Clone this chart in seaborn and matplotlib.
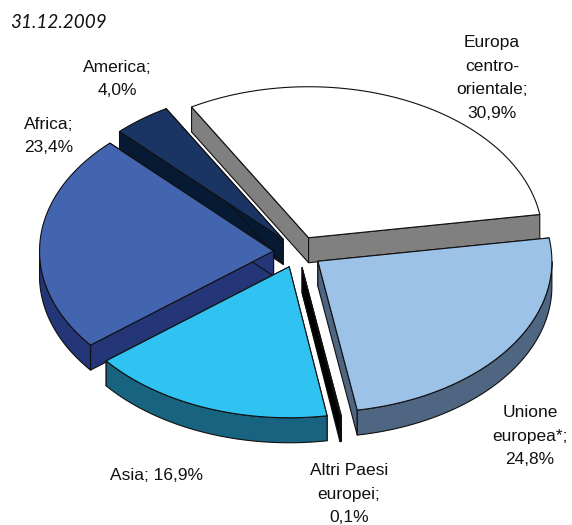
import numpy as np
import matplotlib
matplotlib.use("Agg")
import matplotlib.pyplot as plt
from matplotlib.patches import Polygon
import seaborn as sns

# ---- data ----
categories = ["Europa centro-orientale", "Unione europea*", "Altri Paesi europei", "Asia", "Africa", "America"]
values = [30.9, 24.8, 0.1, 16.9, 23.4, 4.0]
labels = ["Europa\ncentro-\norientale;\n30,9%", "Unione\neuropea*;\n24,8%", "Altri Paesi\neuropei;\n0,1%",
          "Asia; 16,9%", "Africa;\n23,4%", "America;\n4,0%"]
title = "31.12.2009"

# ---- style ----
top_colors = sns.color_palette(["#FFFFFF", "#9CC2E8", "#1A1A1A", "#30C2F0", "#4364AE", "#1A3564"])
side_colors = sns.color_palette(["#808080", "#4F6682", "#000000", "#186480", "#243578", "#071A33"])
label_xy = [(492, 78), (530, 436), (349, 494), (156, 476), (49, 136), (117, 79)]
draw_order = [5, 0, 4, 2, 3, 1]
CX, CY, RX, RY, DEPTH, EXPLODE, START = 298, 252, 234, 151, 25, 24.5, -30.0

sns.set_theme(style="white")
plt.rcParams["font.family"] = ["Liberation Sans", "DejaVu Sans"]
fig = plt.figure(figsize=(5.72, 5.25), dpi=100)
ax = fig.add_axes([0, 0, 1, 1])
ax.set_xlim(0, 572)
ax.set_ylim(525, 0)
ax.axis("off")

shares = np.array(values) / np.sum(values) * 360.0
stops = START + np.concatenate([[0], np.cumsum(shares)])


def point(x0, y0, deg):
    r = np.radians(deg)
    return np.column_stack([x0 + RX * np.sin(r), y0 - RY * np.cos(r)])


for i in draw_order:
    a0, a1 = stops[i], stops[i + 1]
    mid = np.radians((a0 + a1) / 2)
    ox = CX + EXPLODE * np.sin(mid)
    oy = CY - EXPLODE * np.cos(mid) * RY / RX
    arc = point(ox, oy, np.linspace(a0, a1, 90))
    apex = np.array([[ox, oy]])
    down = np.array([[0, DEPTH]])
    kw = dict(closed=True, edgecolor="#101010", linewidth=0.8, joinstyle="round")
    # radial cut faces
    for edge in (arc[:1], arc[-1:]):
        face = np.vstack([apex, edge, edge + down, apex + down])
        ax.add_patch(Polygon(face, facecolor=side_colors[i], **kw))
    # front part of the rim
    ang = np.linspace(a0, a1, 90)
    mask = np.cos(np.radians(ang)) < 0
    if mask.any():
        rim = arc[mask]
        ax.add_patch(Polygon(np.vstack([rim, (rim + down)[::-1]]), facecolor=side_colors[i], **kw))
    # top face
    ax.add_patch(Polygon(np.vstack([apex, arc]), facecolor=top_colors[i], **kw))

for text, (x, y) in zip(labels, label_xy):
    ax.text(x, y, text, ha="center", va="center", fontsize=12.5, color="#111111", linespacing=1.72)

ax.text(10, 23, title, ha="left", va="center", fontsize=13.6, style="italic",
        family=["Lato", "DejaVu Sans"], color="#111111")

fig.savefig("out.png", dpi=100, facecolor="white")
